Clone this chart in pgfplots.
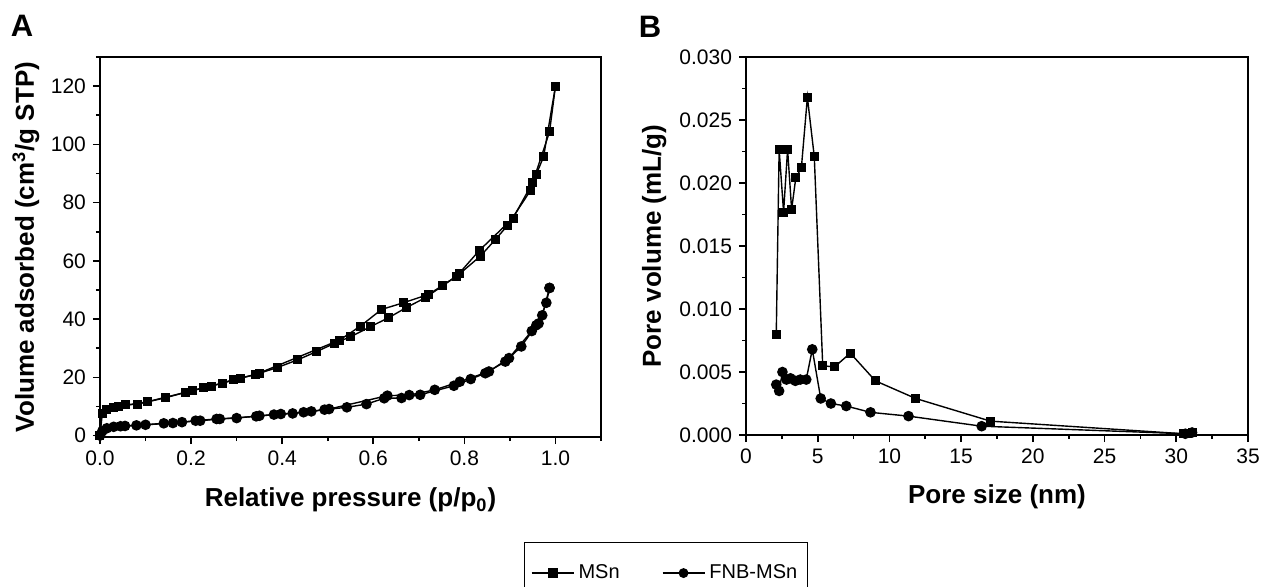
\documentclass[border=0pt]{standalone}
\usepackage{fontspec}
\setmainfont{Liberation Sans}
\usepackage{pgfplots}
\pgfplotsset{compat=1.18}

\pgfplotsset{
  panel/.style={
    scale only axis,
    axis line style={line width=1pt},
    tick align=outside,
    xtick pos=bottom, ytick pos=left,
    major tick length=3.5pt, minor tick length=2pt,
    every tick/.style={black, line width=0.8pt},
    tick label style={font=\fontsize{10.5}{12}\selectfont},
    label style={font=\fontsize{13}{15}\selectfont\bfseries},
    /pgf/number format/assume math mode=true,
    clip=false,
  },
  msn/.style={black, line width=0.7pt, mark=square*, mark size=1.9pt, mark options={solid}},
  fnb/.style={black, line width=0.7pt, mark=*, mark size=2.3pt, mark options={solid}},
}

\begin{document}
\begin{tikzpicture}
\useasboundingbox (0,0) rectangle (631.5pt,-293pt);

\node[font=\fontsize{15.5}{17}\selectfont\bfseries] at (11pt,-13pt) {A};
\node[font=\fontsize{15.5}{17}\selectfont\bfseries] at (325pt,-13.5pt) {B};

% panel A: isotherms
\begin{axis}[panel,
  at={(50pt,-218.5pt)}, anchor=south west,
  width=250.5pt, height=190pt,
  xmin=0, xmax=1.1, ymin=-0.5, ymax=130,
  xtick={0,0.2,...,1.0}, minor xtick={0.1,0.3,...,1.1},
  ytick={0,20,...,120}, minor ytick={10,30,...,130},
  xticklabel style={/pgf/number format/.cd, fixed, fixed zerofill, precision=1},
  xlabel={Relative pressure (p/p\textsubscript{0})},
  ylabel={Volume adsorbed (cm\textsuperscript{3}/g STP)},
  xlabel style={at={(axis description cs:0.5,-0.166)}, anchor=center},
  ylabel style={at={(axis description cs:-0.148,0.5)}, anchor=center},
]
% MSn adsorption
\addplot[msn] coordinates {
  (0,0) (0.005,7.5) (0.014,9.0) (0.03,9.7) (0.055,10.5) (0.083,10.8)
  (0.144,13.0) (0.187,14.8) (0.228,16.5) (0.269,18.0) (0.309,19.7)
  (0.35,21.4) (0.39,23.4) (0.434,26.0) (0.475,28.8) (0.514,31.6)
  (0.551,34.0) (0.594,37.4) (0.634,40.5) (0.672,43.9) (0.714,47.3)
  (0.753,51.5) (0.79,55.6) (0.835,61.6) (0.868,67.3) (0.894,72.0)
  (0.945,84.1) (0.958,89.7) (0.974,95.8) (1.0,120.0)
};
% MSn desorption
\addplot[msn] coordinates {
  (1.0,120.0) (0.987,104.3) (0.95,86.9) (0.907,74.7) (0.833,63.6)
  (0.783,54.7) (0.722,48.5) (0.666,45.6) (0.618,43.3) (0.572,37.6)
  (0.526,32.8) (0.341,20.9) (0.293,19.2) (0.244,16.9) (0.202,15.4)
  (0.104,11.6) (0.04,10.0)
};
% FNB-MSn adsorption
\addplot[fnb] coordinates {
  (0,0) (0.005,1.5) (0.015,2.5) (0.03,3.0) (0.055,3.3) (0.1,3.7)
  (0.16,4.3) (0.21,5.1) (0.256,5.7) (0.30,6.0) (0.35,6.8) (0.397,7.4)
  (0.447,8.0) (0.493,8.9) (0.542,9.7) (0.585,10.8) (0.624,12.8)
  (0.662,12.9) (0.703,14.0) (0.777,17.1) (0.814,19.4) (0.846,21.4)
  (0.89,25.4) (0.925,30.6) (0.958,37.9) (0.971,41.3) (0.987,50.7)
};
% FNB-MSn desorption
\addplot[fnb] coordinates {
  (0.987,50.7) (0.98,45.6) (0.963,38.5) (0.948,35.9) (0.898,26.6)
  (0.854,22.0) (0.79,18.5) (0.735,15.7) (0.679,13.9) (0.631,13.7)
  (0.503,9.1) (0.464,8.3) (0.423,7.6) (0.382,7.2) (0.343,6.6)
  (0.263,5.7) (0.22,5.1) (0.18,4.6) (0.14,4.2) (0.08,3.5) (0.045,3.2)
};
\end{axis}

% panel B: pore size distribution
\begin{axis}[panel,
  at={(373pt,-217.5pt)}, anchor=south west,
  width=251pt, height=189pt,
  xmin=0, xmax=35, ymin=0, ymax=0.030,
  xtick={0,5,...,35}, minor xtick={2.5,7.5,...,32.5},
  ytick={0,0.005,...,0.0301}, minor ytick={0.0025,0.0075,...,0.0276},
  yticklabel style={/pgf/number format/.cd, fixed, fixed zerofill, precision=3},
  scaled y ticks=false,
  xlabel={Pore size (nm)},
  ylabel={Pore volume (mL/g)},
  xlabel style={at={(axis description cs:0.5,-0.164)}, anchor=center},
  ylabel style={at={(axis description cs:-0.183,0.5)}, anchor=center},
  legend columns=2,
  legend style={at={(axis description cs:-0.442,-0.283)}, anchor=north west,
    draw=black, line width=0.6pt, font=\fontsize{10}{12}\selectfont,
    inner xsep=3pt, inner ysep=9pt,
    /tikz/every even column/.append style={column sep=19pt}},
  legend image code/.code={%
    \draw[mark repeat=2, mark phase=2, #1, line width=0.9pt, mark size=2pt] plot coordinates {(0pt,0pt) (10.5pt,0pt) (21pt,0pt)};},
]
\addplot[msn] coordinates {
  (2.11,0.0080) (2.31,0.02267) (2.62,0.0177) (2.90,0.02267) (3.18,0.0179)
  (3.47,0.0204) (3.86,0.0212) (4.28,0.0268) (4.76,0.0221) (5.35,0.0055)
  (6.17,0.0054) (7.27,0.0065) (9.02,0.0043) (11.83,0.0029) (17.05,0.0011)
  (30.5,0.0001) (30.77,0.0001) (31.1,0.0002)
};
\addlegendentry{MSn}
\addplot[fnb] coordinates {
  (2.11,0.0040) (2.31,0.0035) (2.54,0.0050) (2.82,0.0044) (3.10,0.0045)
  (3.44,0.0043) (3.78,0.0044) (4.20,0.0044) (4.62,0.0068) (5.21,0.0029)
  (5.92,0.0025) (6.99,0.0023) (8.68,0.0018) (11.33,0.0015) (16.43,0.0007)
  (30.63,0.0001) (31.1,0.0002)
};
\addlegendentry{FNB-MSn}
\end{axis}
\end{tikzpicture}
\end{document}
